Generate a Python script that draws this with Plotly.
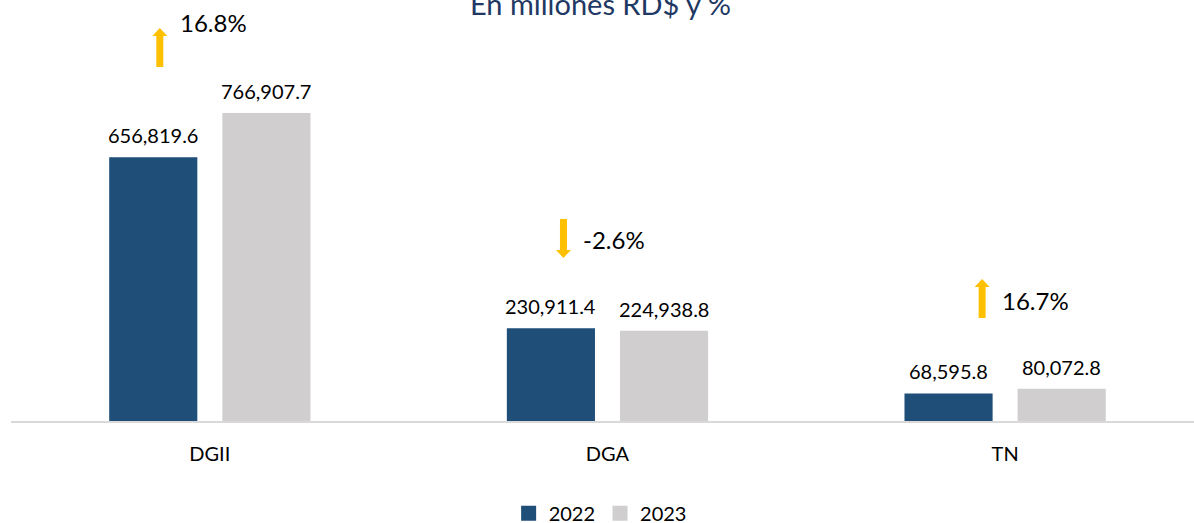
import plotly.graph_objects as go

# datos (millones RD$)
categories = ["DGII", "DGA", "TN"]
years = ["2022", "2023"]
values_2022 = [656819.6, 230911.4, 68595.8]
values_2023 = [766907.7, 224938.8, 80072.8]

# variación porcentual 2023 vs 2022
pct_change = [(b / a - 1) * 100 for a, b in zip(values_2022, values_2023)]

# estilo
BLUE = "#1F4E79"
GRAY = "#D0CECE"
GOLD = "#FFC000"
FONT = "Lato"

# ubicación de flechas (offset x en px desde el centro de la categoría, base en unidades de datos)
arrow_dx = [-50, -44, -23]
arrow_base = [881500, 405900, 256500]
arrow_text_y = [993000, 451000, 301000]

fig = go.Figure()
for vals, year, color in ((values_2022, years[0], BLUE), (values_2023, years[1], GRAY)):
    fig.add_trace(go.Bar(x=categories, y=vals, name=year, showlegend=False,
                         marker=dict(color=color, line=dict(width=0))))
    # entrada de leyenda con cuadro más grande
    fig.add_trace(go.Scatter(x=[None], y=[None], mode="markers", name=year,
                             marker=dict(symbol="square", size=15, color=color)))

# etiquetas de valores
for i, cat in enumerate(categories):
    for vals, shift in ((values_2022, -56.5), (values_2023, 56.5)):
        fig.add_annotation(x=cat, y=vals[i], xshift=shift, yshift=22,
                           text=f"{vals[i]:,.1f}", showarrow=False,
                           font=dict(size=20, color="#000000", family=FONT))


def arrow_path(dx, up):
    if up:
        pts = [(-3.5, 0), (3.5, 0), (3.5, 31), (7.5, 31), (0, 39), (-7.5, 31), (-3.5, 31)]
    else:
        pts = [(-3.5, 39), (3.5, 39), (3.5, 8), (7.5, 8), (0, 0), (-7.5, 8), (-3.5, 8)]
    return "M " + " L ".join(f"{x + dx} {y}" for x, y in pts) + " Z"


# flechas y porcentajes
for i, cat in enumerate(categories):
    fig.add_shape(type="path", xref="x", yref="y", xsizemode="pixel", ysizemode="pixel",
                  xanchor=i, yanchor=arrow_base[i],
                  path=arrow_path(arrow_dx[i], pct_change[i] >= 0),
                  fillcolor=GOLD, line=dict(width=0))
    fig.add_annotation(x=cat, y=arrow_text_y[i], xshift=arrow_dx[i] + 18, showarrow=False,
                       xanchor="left", text=f"{pct_change[i]:.1f}%",
                       font=dict(size=24, color="#000000", family=FONT))

# título (cortado arriba)
fig.add_annotation(xref="paper", yref="paper", x=0.498, y=1, yshift=-3, yanchor="middle",
                   text="En millones RD$ y %", showarrow=False,
                   font=dict(size=29, color="#1F3864", family=FONT))

fig.update_layout(
    width=1194, height=523,
    margin=dict(l=11, r=0, t=0, b=102, autoexpand=False),
    paper_bgcolor="white", plot_bgcolor="white",
    barmode="group", bargap=0.431, bargroupgap=0.221,
    font=dict(family=FONT, size=20, color="#000000"),
    showlegend=True,
    legend=dict(orientation="h", x=0.498, xanchor="center", y=-0.173, yanchor="top",
                font=dict(size=20), traceorder="normal", itemwidth=30),
)
fig.update_xaxes(range=[-0.5, 2.475], showline=True, linecolor="#D9D9D9", linewidth=2,
                 ticks="", ticklabelstandoff=14, tickfont=dict(size=20))
fig.update_yaxes(range=[0, 1048000], visible=False, showgrid=False, zeroline=False)

fig.write_html("out.html", config={"displayModeBar": False},
               post_script="document.body.style.margin='0';")
